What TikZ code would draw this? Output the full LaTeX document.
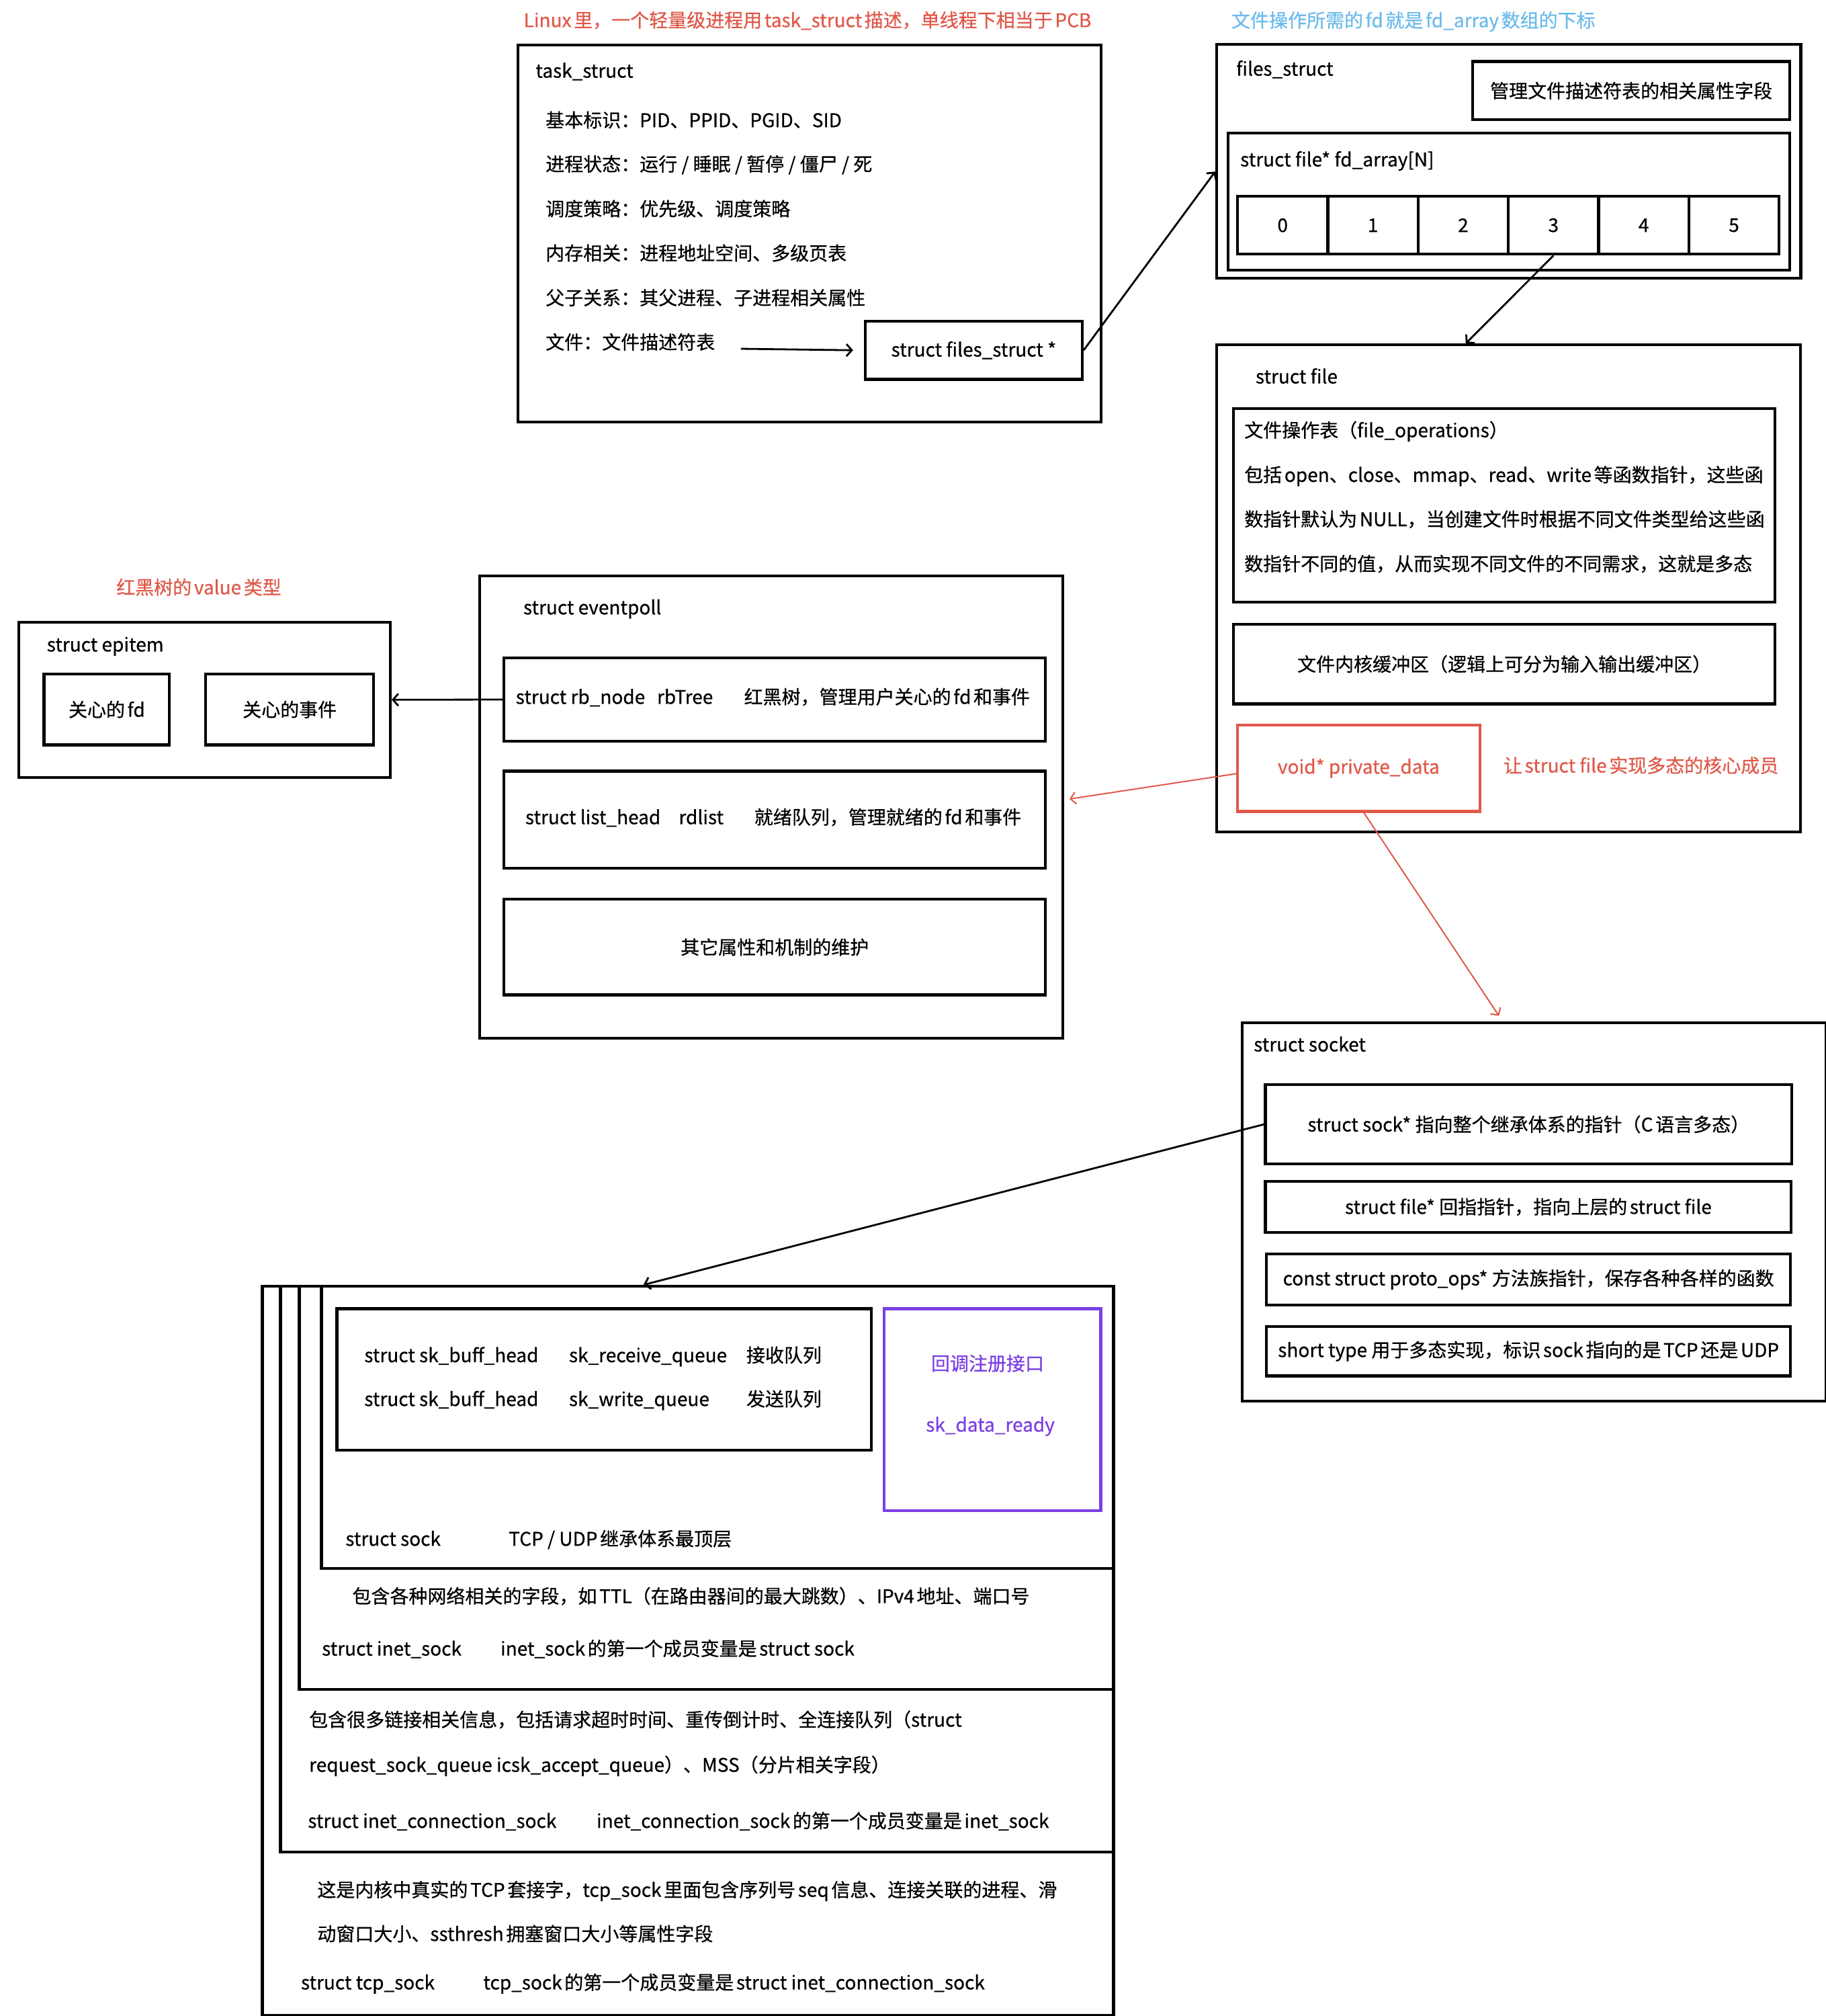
\documentclass[tikz,border=0pt]{standalone}
\usepackage{fontspec}
\setmainfont{Noto Sans CJK SC}[FakeBold=0.6]
\usetikzlibrary{arrows.meta,calc}
\definecolor{myred}{HTML}{E0594A}
\definecolor{myblue}{HTML}{6DBBEB}
\definecolor{mypurple}{HTML}{7B3FE4}
% small gap between CJK ideographs and Latin text, as in the reference
\XeTeXinterchartokenstate=1
\newXeTeXintercharclass\mycjkclass
\newXeTeXintercharclass\mypunctclass
\count255="4E00
\loop
  \XeTeXcharclass\count255=\mycjkclass
  \ifnum\count255<"9FFF \advance\count255 by 1 \repeat
\XeTeXcharclass"FF0C=\mypunctclass
\XeTeXcharclass"3001=\mypunctclass
\XeTeXcharclass"FF1A=\mypunctclass
\XeTeXcharclass"FF08=\mypunctclass
\XeTeXcharclass"FF09=\mypunctclass
\XeTeXinterchartoks 0 \mycjkclass = {\hskip0.13em\relax}
\XeTeXinterchartoks \mycjkclass 0 = {\hskip0.13em\relax}
\newcommand\mybox[7]{\node[box,minimum width={(#4-#2)*1pt},minimum height={(#5-#3)*1pt},#6] (#1) at (#2pt,-#3pt) {#7};}
\newcommand\mytxt[5]{\node[txt,#4] (#1) at (#2pt,-#3pt) {#5};}
\begin{document}
\begin{tikzpicture}[font=\fontsize{14pt}{17pt}\selectfont,
 box/.style={draw, line width=2.2pt, inner sep=0pt, anchor=north west},
 txt/.style={anchor=west, inner sep=0pt, text height=0.88em, text depth=0.12em},
 ctxt/.style={anchor=center, inner sep=0pt, text height=0.88em, text depth=0.12em},
 conn/.style={line width=1.4pt, -{Straight Barb[length=4pt,width=9pt]}},
 rconn/.style={draw=myred, line width=1pt, -{Straight Barb[length=4pt,width=9pt]}},
]
\useasboundingbox (0,0) rectangle (1359pt,-1500pt);

% titles
\node[ctxt, text=myred] (t1) at (601pt,-16.4pt) {Linux里，一个轻量级进程用task\_struct描述，单线程下相当于PCB};
\mytxt{t2}{916.3}{16.5}{text=myblue}{文件操作所需的fd就是fd\_array数组的下标}

% task_struct
\mybox{task}{384.3}{32.3}{818.5}{313}{}{}
\mytxt{tasklbl}{398.5}{54}{}{task\_struct}
\mytxt{ta1}{405.9}{90.8}{}{基本标识：PID、PPID、PGID、SID}
\mytxt{ta2}{405.9}{123.5}{}{进程状态：运行 / 睡眠 / 暂停 / 僵尸 / 死}
\mytxt{ta3}{405.9}{156.8}{}{调度策略：优先级、调度策略}
\mytxt{ta4}{405.9}{189.8}{}{内存相关：进程地址空间、多级页表}
\mytxt{ta5}{405.9}{223}{}{父子关系：其父进程、子进程相关属性}
\mytxt{ta6}{405.9}{256}{}{文件：文件描述符表}
\mybox{fsp}{642.9}{237.8}{804.3}{281.2}{}{struct files\_struct *}
\coordinate (fa) at (551.4pt,-259.5pt);
\draw[conn] (fa) -- ([xshift=-8pt]fsp.west);

% files_struct
\mybox{files}{904.4}{32}{1339.2}{206}{}{}
\mytxt{fileslbl}{919.9}{52.5}{}{files\_struct}
\mybox{mgr}{1094.9}{44.7}{1331}{88}{}{管理文件描述符表的相关属性字段}
\mybox{fdarr}{913}{97.9}{1331}{200}{}{}
\mytxt{fdlbl}{922.9}{120}{}{struct file* fd\_array[N]}
\foreach \i in {0,...,5}{
  \pgfmathsetmacro\xa{919.9+\i*67.18}
  \pgfmathsetmacro\xb{\xa+67.18}
  \mybox{c\i}{\xa}{145}{\xb}{188}{}{\i}
}
\draw[conn] (fsp.east) -- ($(files.north west)!0.543!(files.south west)$);

% struct file
\mybox{file}{904.4}{255.5}{1339}{618}{}{}
\mytxt{filelbl}{934.3}{281.5}{}{struct file}
\mybox{fops}{916.9}{302.9}{1320}{446.8}{}{}
\mytxt{fo1}{925.9}{321.5}{}{文件操作表（file\_operations）}
\mytxt{fo2}{925.9}{354.7}{}{包括open、close、mmap、read、write等函数指针，这些函}
\mytxt{fo3}{925.9}{387.7}{}{数指针默认为NULL，当创建文件时根据不同文件类型给这些函}
\mytxt{fo4}{925.9}{420.9}{}{数指针不同的值，从而实现不同文件的不同需求，这就是多态}
\mybox{buf}{916.9}{463.3}{1320}{522.7}{}{文件内核缓冲区（逻辑上可分为输入输出缓冲区）}
\mybox{priv}{919.9}{538.4}{1100.3}{602.7}{draw=myred, text=myred}{void* private\_data}
\mytxt{privnote}{1118.8}{571}{text=myred}{让struct file实现多态的核心成员}
\draw[conn] (c3.south) -- ($(file.north west)!0.427!(file.north east)$);

% eventpoll
\mybox{ep}{356}{427.5}{789.8}{771.3}{}{}
\mytxt{eplbl}{389.3}{453.3}{}{struct eventpoll}
\mybox{rb}{374}{488.4}{777}{550.4}{}{}
\mytxt{rb1}{383.7}{519.9}{}{struct rb\_node}
\mytxt{rb2}{488.8}{519.9}{}{rbTree}
\mytxt{rb3}{553.6}{519.9}{}{红黑树，管理用户关心的fd和事件}
\mybox{rdl}{374}{572.7}{777}{645}{}{}
\mytxt{rd1}{390.8}{609.4}{}{struct list\_head}
\mytxt{rd2}{505}{609.4}{}{rdlist}
\mytxt{rd3}{561.2}{609.4}{}{就绪队列，管理就绪的fd和事件}
\mybox{other}{374}{668}{777}{739.1}{}{其它属性和机制的维护}

% epitem
\node[ctxt,text=myred] (t3) at (148pt,-438.4pt) {红黑树的value类型};
\mybox{epi}{12.8}{461.8}{289.3}{577.3}{}{}
\mytxt{epilbl}{34.7}{480.9}{}{struct epitem}
\mybox{efd}{31.7}{500.4}{125}{553.2}{}{关心的fd}
\mybox{eev}{152}{500.4}{277}{553.2}{}{关心的事件}
\draw[conn] (rb.west) -- (epi.east);

% red connectors
\draw[rconn] ([yshift=-4pt]priv.west) -- ([xshift=4pt,yshift=6pt]ep.east);

% socket
\mybox{skt}{923.5}{759.8}{1357.8}{1041.5}{}{}
\mytxt{sktlbl}{932.9}{778.5}{}{struct socket}
\mybox{sk1}{940.7}{805.9}{1332.4}{865}{}{struct sock* 指向整个继承体系的指针（C语言多态）}
\mybox{sk2}{940.7}{877.8}{1332}{916}{}{struct file* 回指指针，指向上层的struct file}
\mybox{sk3}{941.5}{931.8}{1331.5}{970}{}{const struct proto\_ops* 方法族指针，保存各种各样的函数}
\mybox{sk4}{941.5}{985.8}{1331.5}{1022.7}{}{short type 用于多态实现，标识sock指向的是TCP还是UDP}
\draw[rconn] ([xshift=4pt]priv.south) -- ($(skt.north west)!0.44!(skt.north east)+(0,4pt)$);

% nested sock boxes
\mybox{tcp}{194.1}{956}{827.6}{1498.5}{}{}
\mybox{icsk}{207.7}{956}{827.6}{1377}{}{}
\mybox{inet}{221.7}{956}{827.6}{1255.9}{}{}
\mybox{sk}{238.2}{956}{827.6}{1165.9}{}{}
\draw[conn] (sk1.west) -- ($(tcp.north west)!0.448!(tcp.north east)$);

\mybox{skb}{249.7}{972.7}{647.4}{1078}{}{}
\mytxt{q1a}{271}{1009.7}{}{struct sk\_buff\_head}
\mytxt{q1b}{423.3}{1009.7}{}{sk\_receive\_queue}
\mytxt{q1c}{555.3}{1009.7}{}{接收队列}
\mytxt{q2a}{271}{1042.3}{}{struct sk\_buff\_head}
\mytxt{q2b}{423.3}{1042.3}{}{sk\_write\_queue}
\mytxt{q2c}{555.3}{1042.3}{}{发送队列}
\mybox{cb}{656.9}{972.7}{818.2}{1123}{draw=mypurple}{}
\node[ctxt,text=mypurple] (cb1) at (735pt,-1015.9pt) {回调注册接口};
\node[ctxt,text=mypurple] (cb2) at (737pt,-1061.4pt) {sk\_data\_ready};
\mytxt{s1}{257}{1146.3}{}{struct sock}
\mytxt{s2}{378.4}{1146.3}{}{TCP / UDP继承体系最顶层}

\mytxt{i0}{262}{1189}{}{包含各种网络相关的字段，如TTL（在路由器间的最大跳数）、IPv4地址、端口号}
\mytxt{i1}{239.4}{1228}{}{struct inet\_sock}
\mytxt{i2}{372.3}{1228}{}{inet\_sock的第一个成员变量是struct sock}

\mytxt{c1}{229.9}{1280.9}{}{包含很多链接相关信息，包括请求超时时间、重传倒计时、全连接队列（struct}
\mytxt{c2}{229.9}{1314.5}{}{request\_sock\_queue icsk\_accept\_queue）、MSS（分片相关字段）}
\mytxt{c3b}{229}{1356.2}{}{struct inet\_connection\_sock}
\mytxt{c4}{443.8}{1356.2}{}{inet\_connection\_sock的第一个成员变量是inet\_sock}

\mytxt{tc1}{236}{1407.5}{}{这是内核中真实的TCP套接字，tcp\_sock里面包含序列号seq信息、连接关联的进程、滑}
\mytxt{tc2}{236}{1440.3}{}{动窗口大小、ssthresh拥塞窗口大小等属性字段}
\mytxt{tc3}{223.8}{1476.4}{}{struct tcp\_sock}
\mytxt{tc4}{359.5}{1476.4}{}{tcp\_sock的第一个成员变量是struct inet\_connection\_sock}
\end{tikzpicture}
\end{document}
